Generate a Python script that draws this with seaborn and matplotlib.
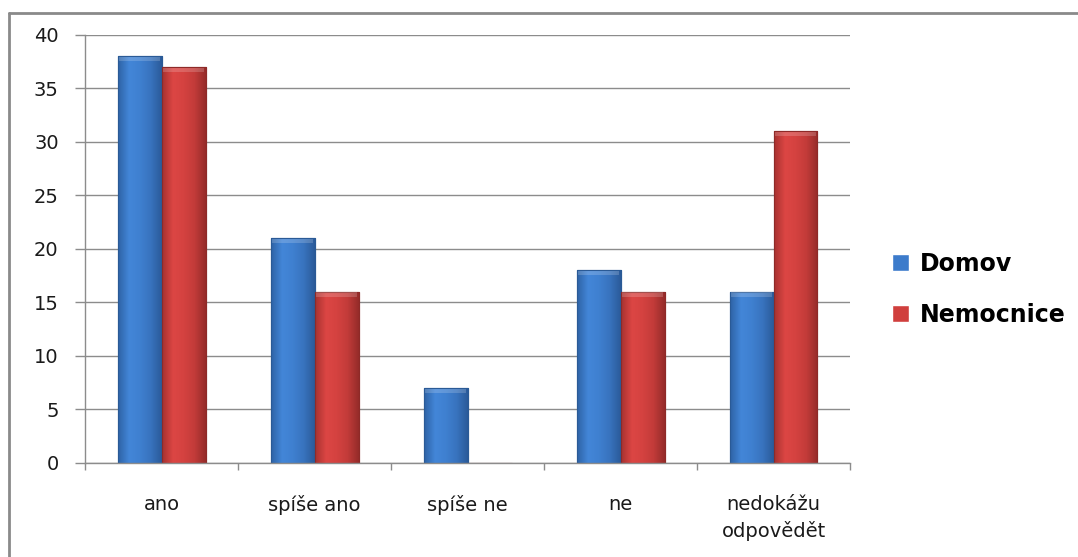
import matplotlib
matplotlib.use("Agg")
import matplotlib.pyplot as plt
from matplotlib.lines import Line2D
from matplotlib.colors import LinearSegmentedColormap
import numpy as np
import seaborn as sns
import pandas as pd

# Survey answers and counts per group
categories = ["ano", "spíše ano", "spíše ne", "ne", "nedokážu\nodpovědět"]
domov = [38, 21, 7, 18, 16]
nemocnice = [37, 16, 0, 16, 31]
series_names = ["Domov", "Nemocnice"]
y_ticks = [0, 5, 10, 15, 20, 25, 30, 35, 40]

df = pd.DataFrame({
    "kategorie": categories * 2,
    "pocet": domov + nemocnice,
    "skupina": [series_names[0]] * len(categories) + [series_names[1]] * len(categories),
})

sns.set_theme(style="white")
plt.rcParams["font.family"] = ["DejaVu Sans"]

fig = plt.figure(figsize=(10.78, 5.57), dpi=100)
ax = fig.add_axes([0.0789, 0.1688, 0.7096, 0.7684])

palette = {"Domov": "#3C7BCB", "Nemocnice": "#D03F3D"}
sns.barplot(data=df, x="kategorie", y="pocet", hue="skupina", order=categories,
            hue_order=series_names, palette=palette, width=0.575, dodge=True,
            saturation=1, ax=ax, legend=True)

ax.set_ylim(0, 40)
ax.set_xlim(-0.5, len(categories) - 0.5)

# Shaded, bevelled look for the bars: horizontal gradient clipped to each bar
edge = {"Domov": "#2A5A96", "Nemocnice": "#8E2A28"}
shades = {
    "Domov": ["#2E63A6", "#4386D8", "#3F80D0", "#3873BE", "#2B5B9A"],
    "Nemocnice": ["#A83230", "#DC4644", "#D44240", "#C23B39", "#962C2A"],
}
for container, name in zip(ax.containers, series_names):
    cmap = LinearSegmentedColormap.from_list(name, shades[name])
    grad = np.linspace(0, 1, 64).reshape(1, -1)
    for bar in container:
        bar.set_edgecolor(edge[name])
        bar.set_linewidth(0.8)
        h = bar.get_height()
        if h <= 0:
            continue
        x0, w = bar.get_x(), bar.get_width()
        im = ax.imshow(grad, cmap=cmap, aspect="auto", extent=(x0, x0 + w, 0, h),
                       zorder=bar.get_zorder() + 0.1, interpolation="bicubic")
        im.set_clip_path(bar)
        ax.add_patch(plt.Rectangle((x0, 0), w, h, fill=False, edgecolor=edge[name],
                                   linewidth=0.8, zorder=bar.get_zorder() + 0.2))
        # light bevel at the bar top
        ax.add_patch(plt.Rectangle((x0 + w * 0.04, h - 0.45), w * 0.92, 0.4,
                                   facecolor="white", alpha=0.18, linewidth=0,
                                   zorder=bar.get_zorder() + 0.3))

ax.set_ylim(0, 40)
ax.set_xlim(-0.5, len(categories) - 0.5)
ax.set_yticks(y_ticks)
ax.set_xlabel("")
ax.set_ylabel("")

grid_col = "#8C8C8C"
ax.yaxis.grid(True, color=grid_col, linewidth=1.0)
ax.set_axisbelow(True)
for side in ["top", "right"]:
    ax.spines[side].set_visible(False)
for side in ["left", "bottom"]:
    ax.spines[side].set_color(grid_col)
    ax.spines[side].set_linewidth(1.0)
    ax.spines[side].set_zorder(5)

ax.tick_params(axis="y", which="major", length=7, color=grid_col, width=1.0,
               labelsize=14, labelcolor="#1a1a1a", pad=12, left=True)
ax.tick_params(axis="x", which="major", length=0, labelsize=14,
               labelcolor="#1a1a1a", pad=23)
ax.set_xticks(range(len(categories)))
ax.set_xticklabels(categories, linespacing=1.45)
ax.set_xticks([i - 0.5 for i in range(len(categories) + 1)], minor=True)
ax.tick_params(axis="x", which="minor", length=5, color=grid_col, width=1.0, bottom=True)

handles, labels = ax.get_legend_handles_labels()
leg = ax.legend(handles, labels, loc="center left", bbox_to_anchor=(0.808, 0.481),
                bbox_transform=fig.transFigure, frameon=False,
                prop={"weight": "bold", "size": 17}, handlelength=0.72,
                handleheight=0.72, handletextpad=0.45, labelspacing=1.15)
for t in leg.get_texts():
    t.set_color("black")

# Chart frame (left and top edges fall inside the image)
frame = dict(transform=fig.transFigure, color="#8A8A8A", linewidth=2.0)
fig.add_artist(Line2D([8.5 / 1078, 8.5 / 1078], [0, 1 - 13 / 557], **frame))
fig.add_artist(Line2D([8.5 / 1078, 1.0], [1 - 13 / 557, 1 - 13 / 557], **frame))

fig.savefig("out.png", dpi=100)
